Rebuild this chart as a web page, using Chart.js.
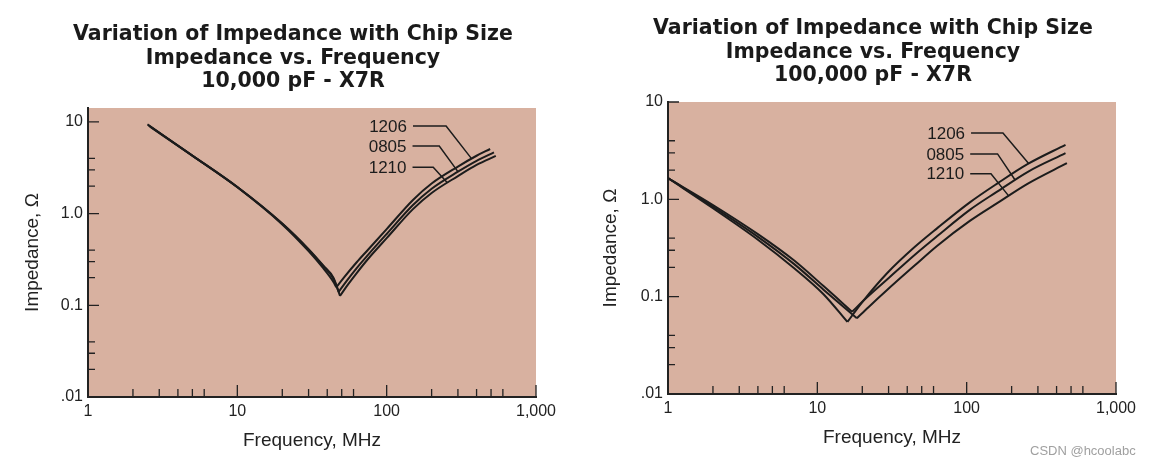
<!DOCTYPE html>
<html>
<head>
<meta charset="utf-8">
<script src="https://cdn.jsdelivr.net/npm/chart.js@4.4.1/dist/chart.umd.min.js"></script>
<style>
body { margin: 0; background: #fff; }
#wrap { position: relative; width: 1156px; height: 467px; overflow: hidden; }
canvas { position: absolute; top: 0; }
#grafico1 { left: 0; }
#grafico2 { left: 578px; }
.marca { position: absolute; left: 1030px; top: 443px; font: 13px "Liberation Sans", Arial, sans-serif; color: #a0a0a0; }
</style>
</head>
<body>
<div id="wrap">
  <canvas id="grafico1" width="578" height="467"></canvas>
  <canvas id="grafico2" width="578" height="467"></canvas>
  <div class="marca">CSDN @hcoolabc</div>
</div>
<script>
// ticks
var xTicks = [1, 10, 100, 1000];
var xTickLabels = ['1', '10', '100', '1,000'];
var yTicks = [0.01, 0.1, 1, 10];
var yTickLabels = ['.01', '0.1', '1.0', '10'];
var xMayores = [10, 100, 1000];
var xMenores = [2, 3, 4, 5, 6, 20, 30, 40, 50, 60, 200, 300, 400, 500, 600];
var yMayores = [0.1, 1, 10];
var yMenores = [0.02, 0.03, 0.04, 0.2, 0.3, 0.4, 2, 3, 4];

var series = ['1206', '0805', '1210'];

// 10,000 pF - X7R
var titulo1 = ['Variation of Impedance with Chip Size', 'Impedance vs. Frequency', '10,000 pF - X7R'];
var freq1206a = [2.5, 5, 10, 20, 30, 37.6, 44, 46, 52, 63, 75, 100, 150, 200, 300, 400, 493];
var imp1206a = [9.4, 4.3, 1.94, 0.763, 0.39, 0.254, 0.18, 0.157, 0.203, 0.295, 0.404, 0.678, 1.41, 2.13, 3.26, 4.28, 5.07];
var freq0805a = [2.55, 5, 10, 20, 30, 37.6, 44, 47.7, 54, 63, 75, 100, 150, 200, 300, 400, 523];
var imp0805a = [9.15, 4.3, 1.95, 0.775, 0.405, 0.268, 0.195, 0.14, 0.185, 0.255, 0.355, 0.6, 1.24, 1.87, 2.87, 3.77, 4.67];
var freq1210a = [2.6, 5, 10, 20, 30, 37.6, 44, 48.7, 55, 63, 75, 100, 150, 200, 300, 400, 538];
var imp1210a = [8.9, 4.28, 1.95, 0.78, 0.41, 0.272, 0.2, 0.127, 0.168, 0.225, 0.32, 0.54, 1.12, 1.68, 2.57, 3.4, 4.26];
var guias1 = [
    [[150, 9.04], [250, 9.04], [370, 3.98]],
    [[149, 5.47], [225, 5.47], [300, 2.87]],
    [[149, 3.21], [205, 3.21], [255, 2.17]]
];

// 100,000 pF - X7R
var titulo2 = ['Variation of Impedance with Chip Size', 'Impedance vs. Frequency', '100,000 pF - X7R'];
var freq1206b = [1, 2, 4, 7, 11, 15.9, 20, 29.3, 45, 63, 105, 160, 257, 459];
var imp1206b = [1.65, 0.81, 0.385, 0.196, 0.106, 0.055, 0.088, 0.174, 0.325, 0.5, 0.93, 1.45, 2.31, 3.63];
var freq0805b = [1, 2, 4, 7, 11, 17.1, 21, 29.3, 45, 63, 105, 160, 257, 459];
var imp0805b = [1.65, 0.875, 0.439, 0.235, 0.1285, 0.07, 0.095, 0.15, 0.27, 0.415, 0.78, 1.2, 1.92, 2.98];
var freq1210b = [1, 2, 4, 7, 11, 18.4, 22, 29.3, 45, 63, 105, 163, 257, 469];
var imp1210b = [1.65, 0.842, 0.412, 0.216, 0.118, 0.06, 0.078, 0.117, 0.21, 0.33, 0.6, 0.93, 1.45, 2.35];
var guias2 = [
    [[107, 4.79], [175, 4.79], [260, 2.33]],
    [[105.6, 2.93], [161, 2.93], [211, 1.58]],
    [[105.6, 1.83], [145.5, 1.83], [191, 1.085]]
];

Chart.defaults.font.family = '"Liberation Sans", Arial, sans-serif';
Chart.defaults.color = '#222';

var fondoPlot = {
    id: 'fondoPlot',
    beforeDraw: function (chart) {
        var a = chart.chartArea, ctx = chart.ctx;
        ctx.save();
        ctx.fillStyle = '#d8b1a0';
        ctx.fillRect(a.left, a.top, a.right - a.left, a.bottom - a.top);
        ctx.restore();
    }
};

var marcasEje = {
    id: 'marcasEje',
    afterDraw: function (chart) {
        var sx = chart.scales.x, sy = chart.scales.y, a = chart.chartArea, ctx = chart.ctx;
        ctx.save();
        ctx.strokeStyle = '#222';
        ctx.lineWidth = 1.3;
        ctx.beginPath();
        function marcaX(v, largo) {
            var px = sx.getPixelForValue(v);
            ctx.moveTo(px, a.bottom); ctx.lineTo(px, a.bottom - largo);
        }
        function marcaY(v, largo) {
            var py = sy.getPixelForValue(v);
            ctx.moveTo(a.left, py); ctx.lineTo(a.left + largo, py);
        }
        xMayores.forEach(function (v) { marcaX(v, 12); });
        xMenores.forEach(function (v) { marcaX(v, 8); });
        yMayores.forEach(function (v) { if (v <= sy.max) marcaY(v, 11); });
        yMenores.forEach(function (v) { if (v <= sy.max) marcaY(v, 7); });
        ctx.stroke();
        ctx.restore();
    }
};

var tituloPlugin = {
    id: 'titulo',
    afterDraw: function (chart, args, opts) {
        var ctx = chart.ctx;
        ctx.save();
        ctx.fillStyle = '#1a1a1a';
        ctx.font = 'bold 20.5px "DejaVu Sans"';
        ctx.textAlign = 'center';
        ctx.textBaseline = 'alphabetic';
        opts.lineas.forEach(function (t, i) {
            ctx.fillText(t, opts.x, opts.y + i * 23.5);
        });
        ctx.restore();
    }
};

var etiquetasPlugin = {
    id: 'etiquetas',
    afterDatasetsDraw: function (chart, args, opts) {
        var sx = chart.scales.x, sy = chart.scales.y, ctx = chart.ctx;
        ctx.save();
        ctx.strokeStyle = '#1c1c1c';
        ctx.fillStyle = '#1c1c1c';
        ctx.lineWidth = 1.5;
        ctx.font = '17px "Liberation Sans"';
        ctx.textAlign = 'right';
        ctx.textBaseline = 'middle';
        opts.guias.forEach(function (g, i) {
            ctx.beginPath();
            g.forEach(function (p, j) {
                var px = sx.getPixelForValue(p[0]), py = sy.getPixelForValue(p[1]);
                if (j === 0) ctx.moveTo(px, py); else ctx.lineTo(px, py);
            });
            ctx.stroke();
            ctx.fillText(series[i], sx.getPixelForValue(g[0][0]) - 6, sy.getPixelForValue(g[0][1]) + 1);
        });
        ctx.restore();
    }
};

function tramo(puntos) {
    return {
        data: puntos,
        borderColor: '#1c1c1c',
        borderWidth: 2,
        pointRadius: 0,
        fill: false,
        cubicInterpolationMode: 'monotone'
    };
}

// each curve is split at its minimum so the resonance keeps a sharp V
function serie(f, z) {
    var pts = f.map(function (v, i) { return { x: v, y: z[i] }; });
    var k = z.indexOf(Math.min.apply(null, z));
    return [tramo(pts.slice(0, k + 1)), tramo(pts.slice(k))];
}

function graficoImpedancia(idCanvas, datos, yMax, geo, titulo, guias) {
    var ctx = document.getElementById(idCanvas).getContext('2d');
    var chart = new Chart(ctx, {
        type: 'line',
        data: { datasets: [].concat.apply([], datos) },
        options: {
            responsive: false,
            animation: false,
            layout: { padding: { top: geo.top, right: geo.right, bottom: 0, left: 0 } },
            plugins: {
                legend: { display: false },
                tooltip: { enabled: false },
                titulo: { lineas: titulo, x: geo.tx, y: geo.ty },
                etiquetas: { guias: guias }
            },
            scales: {
                x: {
                    type: 'logarithmic',
                    min: 1,
                    max: 1000,
                    afterFit: function (s) { s.height = geo.xh; },
                    afterBuildTicks: function (s) { s.ticks = xTicks.map(function (v) { return { value: v }; }); },
                    grid: { display: false, drawTicks: false },
                    border: { display: true, color: '#222', width: 2 },
                    ticks: {
                        autoSkip: false, maxRotation: 0, padding: 5,
                        font: { size: 16 },
                        callback: function (v, i) { return xTickLabels[i]; }
                    },
                    title: { display: true, text: 'Frequency, MHz', font: { size: 19 }, padding: { top: 0, bottom: geo.xtp } }
                },
                y: {
                    type: 'logarithmic',
                    min: 0.01,
                    max: yMax,
                    afterFit: function (s) { s.width = geo.yw; },
                    afterBuildTicks: function (s) { s.ticks = yTicks.map(function (v) { return { value: v }; }); },
                    grid: { display: false, drawTicks: false },
                    border: { display: true, color: '#222', width: 2 },
                    ticks: {
                        autoSkip: false, padding: 5,
                        font: { size: 16 },
                        callback: function (v, i) { return yTickLabels[i]; }
                    },
                    title: { display: true, text: 'Impedance, Ω', font: { size: 19 }, padding: { top: 21, bottom: 0 } }
                }
            }
        },
        plugins: [fondoPlot, marcasEje, tituloPlugin, etiquetasPlugin]
    });
    return chart;
}

graficoImpedancia('grafico1',
    [serie(freq1206a, imp1206a), serie(freq0805a, imp0805a), serie(freq1210a, imp1210a)],
    14.2,
    { top: 108, right: 42, xh: 70, yw: 88, xtp: 15, tx: 293, ty: 40 },
    titulo1, guias1);

graficoImpedancia('grafico2',
    [serie(freq1206b, imp1206b), serie(freq0805b, imp0805b), serie(freq1210b, imp1210b)],
    10,
    { top: 102, right: 40, xh: 73, yw: 90, xtp: 18, tx: 295, ty: 34 },
    titulo2, guias2);
</script>
</body>
</html>
